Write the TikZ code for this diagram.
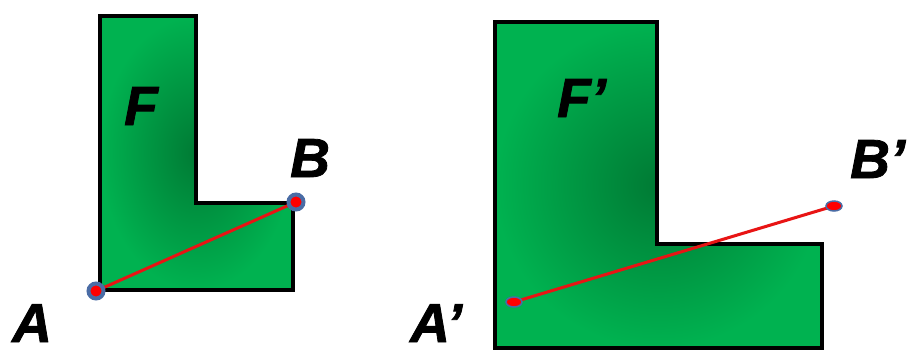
\documentclass[tikz,border=0pt]{standalone}
\usepackage{fontspec}
\setmainfont{Liberation Sans}
\newfontfamily\labfont[BoldItalicFeatures={FakeBold=1.5}]{Liberation Sans}
\usetikzlibrary{shapes.geometric}
\definecolor{gbright}{RGB}{0,178,80}
\definecolor{gdark}{RGB}{0,122,52}
\definecolor{segred}{RGB}{232,20,20}
\definecolor{ringblue}{RGB}{74,108,165}
\tikzset{
  lshape/.style={draw=black, line width=3.5pt, line join=miter, inner color=gdark, outer color=gbright},
  seg/.style={draw=segred, line width=3pt},
  ptL/.style={circle, draw=ringblue, line width=4pt, fill=red, minimum size=15pt, inner sep=0pt},
  ptR/.style={ellipse, draw=ringblue, line width=1.5pt, fill=red, minimum width=16pt, minimum height=10pt, inner sep=0pt},
  lab/.style={anchor=base west, inner sep=0pt, font=\labfont\fontsize{55}{60}\selectfont\bfseries\itshape, text=black}
}
\begin{document}
\begin{tikzpicture}[x=1pt,y=-1pt]
\useasboundingbox (0,0) rectangle (918,354);
\begin{scope}
\clip (0,0) rectangle (918,354);
% left L
\path[lshape] (100,16) -- (196,16) -- (196,203) -- (293,203) -- (293,290) -- (100,290) -- cycle;
% right L
\path[lshape] (495,22) -- (657,22) -- (657,244) -- (822,244) -- (822,348) -- (495,348) -- cycle;
\coordinate (A) at (96,291);
\coordinate (B) at (296,202);
\coordinate (A2) at (514,302);
\coordinate (B2) at (834,206);
\draw[seg] (A) -- (B);
\draw[seg] (A2) -- (B2);
\node[ptL] (mA) at (A) {};
\node[ptL] (mB) at (B) {};
\node[ptR] (mA2) at (A2) {};
\node[ptR] (mB2) at (B2) {};
\node[lab] (lA) at (12,342) {A};
\node[lab] (lB) at (290,177) {B};
\node[lab] (lF) at (124,125) {F};
\node[lab] (lF2) at (557,117) {F’};
\node[lab] (lB2) at (850,178) {B’};
\node[lab] (lA2) at (410,342) {A’};
\end{scope}
\end{tikzpicture}
\end{document}
